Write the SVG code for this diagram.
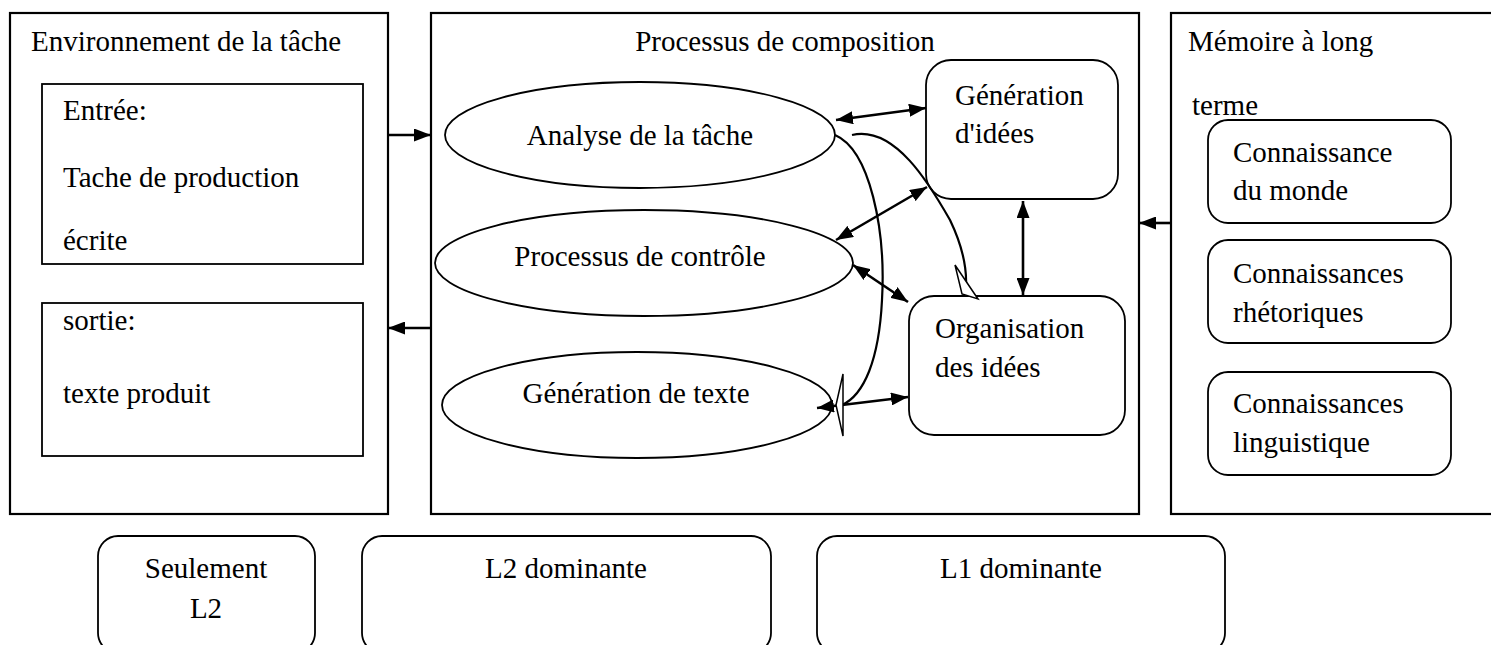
<svg xmlns="http://www.w3.org/2000/svg" width="1491" height="645" viewBox="0 0 1491 645">
  <style>
    text { font-family: "Liberation Serif", "Times New Roman", serif; font-size: 29px; fill: #000; }
    .c { text-anchor: middle; }
    .frame { fill: none; stroke: #000; stroke-width: 2.2; }
    .box { fill: #fff; stroke: #000; stroke-width: 1.8; }
    .rbox { fill: #fff; stroke: #000; stroke-width: 1.8; }
    .ell { fill: #fff; stroke: #000; stroke-width: 1.8; }
    .arr { fill: none; stroke: #000; stroke-width: 2.6; }
    .curve { fill: none; stroke: #000; stroke-width: 2.2; }
    .open { fill: #fff; stroke: #000; stroke-width: 1.5; stroke-linejoin: miter; }
  </style>
  <defs>
    <marker id="head" viewBox="0 0 17 13" refX="17" refY="6.5" markerWidth="17" markerHeight="13" markerUnits="userSpaceOnUse" orient="auto-start-reverse">
      <path d="M0,0 L17,6.5 L0,13 Z" fill="#000"/>
    </marker>
  </defs>
  <rect width="1491" height="645" fill="#fff"/>

  <!-- task environment -->
  <g id="environnement">
    <rect class="frame" x="10" y="13" width="378" height="501"/>
    <text x="31" y="51">Environnement de la tâche</text>
  </g>
  <g id="entree">
    <rect class="box" x="42" y="84" width="321" height="180"/>
    <text x="63" y="120">Entrée:</text>
    <text x="63" y="187">Tache de production</text>
    <text x="63" y="250">écrite</text>
  </g>
  <g id="sortie">
    <rect class="box" x="42" y="303" width="321" height="153"/>
    <text x="63" y="330">sortie:</text>
    <text x="63" y="403">texte produit</text>
  </g>

  <!-- composing process -->
  <g id="processus">
    <rect class="frame" x="431" y="13" width="708" height="501"/>
    <text class="c" x="785" y="51">Processus de composition</text>
  </g>
  <g id="analyse">
    <ellipse class="ell" cx="640" cy="135" rx="195" ry="53"/>
    <text class="c" x="640" y="145">Analyse de la tâche</text>
  </g>
  <g id="controle">
    <ellipse class="ell" cx="644" cy="263" rx="209" ry="53"/>
    <text class="c" x="640" y="266">Processus de contrôle</text>
  </g>
  <g id="generation-texte">
    <ellipse class="ell" cx="637" cy="405" rx="195" ry="53"/>
    <text class="c" x="636" y="403">Génération de texte</text>
  </g>
  <g id="generation-idees">
    <rect class="rbox" x="926" y="60" width="192" height="139" rx="25"/>
    <text x="955" y="105">Génération</text>
    <text x="955" y="143">d'idées</text>
  </g>
  <g id="organisation">
    <rect class="rbox" x="909" y="296" width="216" height="139" rx="25"/>
    <text x="935" y="338">Organisation</text>
    <text x="935" y="377">des idées</text>
  </g>

  <!-- long-term memory -->
  <g id="memoire">
    <rect class="frame" x="1171" y="13" width="330" height="501"/>
    <text x="1188" y="51">Mémoire à long</text>
    <text x="1192" y="115">terme</text>
  </g>
  <g id="monde">
    <rect class="rbox" x="1208" y="120" width="243" height="103" rx="20"/>
    <text x="1233" y="162">Connaissance</text>
    <text x="1233" y="200">du monde</text>
  </g>
  <g id="rhetoriques">
    <rect class="rbox" x="1208" y="240" width="243" height="103" rx="20"/>
    <text x="1233" y="283">Connaissances</text>
    <text x="1233" y="322">rhétoriques</text>
  </g>
  <g id="linguistique">
    <rect class="rbox" x="1208" y="372" width="243" height="103" rx="20"/>
    <text x="1233" y="413">Connaissances</text>
    <text x="1233" y="452">linguistique</text>
  </g>

  <!-- language dominance -->
  <g id="seulement-l2">
    <rect class="rbox" x="98" y="536" width="217" height="117" rx="20"/>
    <text class="c" x="206" y="578">Seulement</text>
    <text class="c" x="206" y="618">L2</text>
  </g>
  <g id="l2-dominante">
    <rect class="rbox" x="362" y="536" width="409" height="117" rx="20"/>
    <text class="c" x="566" y="578">L2 dominante</text>
  </g>
  <g id="l1-dominante">
    <rect class="rbox" x="817" y="536" width="408" height="117" rx="20"/>
    <text class="c" x="1021" y="578">L1 dominante</text>
  </g>

  <!-- connectors -->
  <g id="connecteurs">
    <line class="arr" x1="388" y1="135" x2="431" y2="135" marker-end="url(#head)"/>
    <line class="arr" x1="431" y1="328" x2="388" y2="328" marker-end="url(#head)"/>
    <line class="arr" x1="1171" y1="223" x2="1139" y2="223" marker-end="url(#head)"/>
    <line class="arr" x1="836" y1="120" x2="926" y2="108" marker-start="url(#head)" marker-end="url(#head)"/>
    <line class="arr" x1="836" y1="240" x2="927" y2="187" marker-start="url(#head)" marker-end="url(#head)"/>
    <line class="arr" x1="853" y1="265" x2="908" y2="302" marker-start="url(#head)" marker-end="url(#head)"/>
    <line class="arr" x1="817" y1="408" x2="908" y2="397" marker-start="url(#head)" marker-end="url(#head)"/>
    <line class="arr" x1="1023" y1="201" x2="1023" y2="295" marker-start="url(#head)" marker-end="url(#head)"/>
    <path class="curve" d="M835,135 C870,150 886,230 882,300 C879,360 864,395 842,405"/>
    <polygon class="open" points="843,374 836,405 843,436"/>
    <path class="curve" d="M852,135 C895,125 930,185 950,220 C962,245 967,268 966,287"/>
    <polygon class="open" points="955,265 962,294 978,299"/>
  </g>
</svg>
